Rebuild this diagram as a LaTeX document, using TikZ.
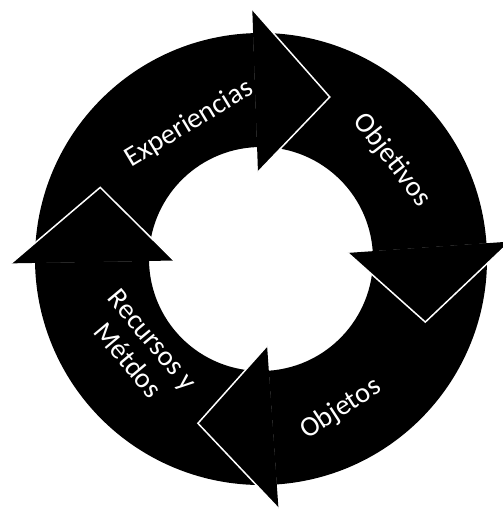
\documentclass[tikz,border=0pt]{standalone}
\usepackage{fontspec}
\setsansfont{Carlito}

\begin{document}
\begin{tikzpicture}[x=1bp, y=1bp, font=\sffamily\fontsize{28.5}{32}\selectfont]
  \useasboundingbox (-261,-251) rectangle (242,259);
  % ring pieces (tail angle / base angle)
  \foreach \t/\b in {181/92, 92/4, 4/-86, 274/181}
    \fill[black] (\t:226) arc[start angle=\t, end angle=\b, radius=226]
      -- (\b:112) arc[start angle=\b, end angle=\t, radius=112] -- cycle;
  % arrow heads
  \foreach \b in {92, 4, -86, 181} {
    \fill[black] (\b:250) -- ({\b-25}:176) -- (\b:87) -- cycle;
    \draw[white, line width=1.5] (\b:250) -- ({\b-25}:176) -- (\b:87);
  }
  \node[white, rotate=31] (exp) at (118:153) {Experiencias};
  \node[white, rotate=-52] (obv) at (37:164) {Objetivos};
  \node[white, rotate=33] (obt) at (-62:170) {Objetos};
  \node[white, rotate=-50, align=center] (rec) at (217:151) {Recursos y\\Métdos};
\end{tikzpicture}
\end{document}
